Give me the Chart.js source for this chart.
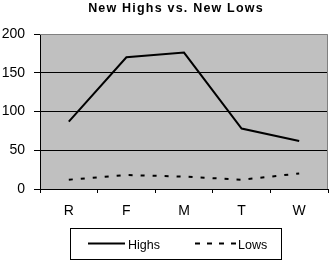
<!DOCTYPE html>
<html>
<head>
<meta charset="utf-8">
<style>
html,body{margin:0;padding:0;background:#fff;}
#wrap{width:329px;height:261px;position:relative;}
</style>
<script src="https://cdn.jsdelivr.net/npm/chart.js@4/dist/chart.umd.min.js"></script>
</head>
<body>
<div id="wrap"><canvas id="c" width="329" height="261"></canvas></div>
<script>
const chartTitle = "New Highs vs. New Lows";
const categories = ["R", "F", "M", "T", "W"];
const highs = [87, 170, 176, 78, 62];
const lows = [12, 18, 16, 12, 20];
const yTicks = [0, 50, 100, 150, 200];

const FONT = "'Liberation Sans', Arial, sans-serif";

const plotBg = {
  id: 'plotBg',
  beforeDraw(chart) {
    const {ctx, chartArea: a} = chart;
    ctx.save();
    ctx.fillStyle = '#c0c0c0';
    ctx.fillRect(a.left, a.top, a.right - a.left, a.bottom - a.top);
    ctx.restore();
  },
  afterDatasetsDraw(chart) {
    const {ctx, chartArea: a} = chart;
    ctx.save();
    ctx.strokeStyle = '#808080';
    ctx.lineWidth = 1;
    ctx.beginPath();
    ctx.moveTo(a.left, a.top + 0.5);
    ctx.lineTo(a.right - 0.5, a.top + 0.5);
    ctx.lineTo(a.right - 0.5, a.bottom);
    ctx.stroke();
    ctx.restore();
  }
};

const titleAndLegend = {
  id: 'titleAndLegend',
  afterDraw(chart) {
    const ctx = chart.ctx;
    ctx.save();
    // title
    ctx.fillStyle = '#000';
    ctx.font = 'bold 12.5px ' + FONT;
    ctx.letterSpacing = '1.2px';
    ctx.textAlign = 'center';
    ctx.textBaseline = 'alphabetic';
    ctx.fillText(chartTitle, 176, 12);
    ctx.letterSpacing = '0px';
    // legend box
    ctx.strokeStyle = '#000';
    ctx.lineWidth = 1;
    ctx.strokeRect(70.5, 228.5, 211, 31);
    const ds = chart.data.datasets;
    // Highs
    ctx.lineWidth = 2;
    ctx.setLineDash([]);
    ctx.beginPath();
    ctx.moveTo(88, 243.5);
    ctx.lineTo(125, 243.5);
    ctx.stroke();
    // Lows
    ctx.setLineDash([5, 7]);
    ctx.beginPath();
    ctx.moveTo(195, 243.5);
    ctx.lineTo(236, 243.5);
    ctx.stroke();
    ctx.setLineDash([]);
    ctx.font = '12.5px ' + FONT;
    ctx.textAlign = 'left';
    ctx.fillText(ds[0].label, 128, 248.5);
    ctx.fillText(ds[1].label, 238, 248.5);
    ctx.restore();
  }
};

new Chart(document.getElementById('c'), {
  type: 'line',
  data: {
    labels: categories,
    datasets: [
      {label: 'Highs', data: highs, borderColor: '#000', borderWidth: 2, pointRadius: 0, tension: 0, fill: false},
      {label: 'Lows', data: lows, borderColor: '#000', borderWidth: 2, borderDash: [4, 8], pointRadius: 0, tension: 0, fill: false}
    ]
  },
  plugins: [plotBg, titleAndLegend],
  options: {
    responsive: false,
    animation: false,
    devicePixelRatio: 1,
    layout: {padding: {top: 34, right: 1, left: 0, bottom: 40}},
    plugins: {legend: {display: false}, title: {display: false}, tooltip: {enabled: false}},
    scales: {
      x: {
        offset: true,
        afterFit: s => { s.height = 32; },
        grid: {offset: true, drawOnChartArea: false, drawTicks: true, tickLength: 4, tickColor: '#000'},
        border: {color: '#000', width: 1},
        ticks: {color: '#000', font: {family: FONT, size: 14}, padding: 10, maxRotation: 0}
      },
      y: {
        min: 0, max: 200,
        afterFit: s => { s.width = 40; },
        afterBuildTicks: s => { s.ticks = yTicks.map(v => ({value: v})); },
        grid: {
          color: c => (c.tick && c.tick.value === 200) ? 'rgba(0,0,0,0)' : '#000',
          tickColor: '#000', tickLength: 6, drawTicks: true
        },
        border: {color: '#000', width: 1},
        ticks: {color: '#000', font: {family: FONT, size: 14}, padding: 9, stepSize: 50}
      }
    }
  }
});
</script>
</body>
</html>
